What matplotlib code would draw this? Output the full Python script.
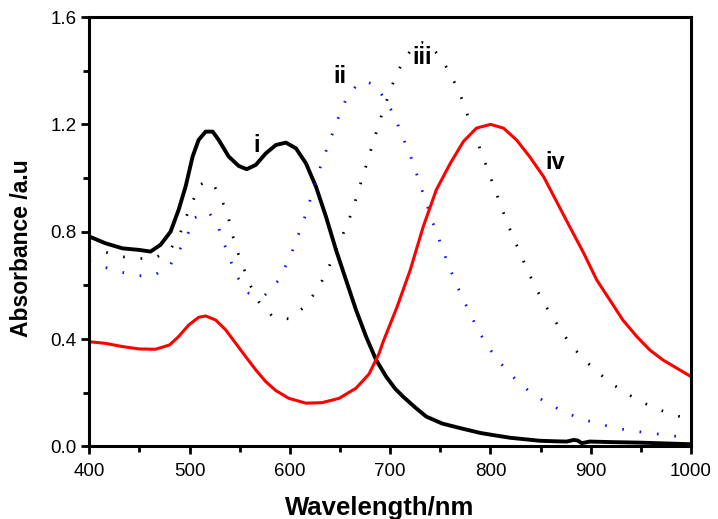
import matplotlib
matplotlib.use("Agg")
import matplotlib.pyplot as plt
from matplotlib.ticker import MultipleLocator

plt.rcParams['font.family'] = ['Liberation Sans', 'DejaVu Sans']

# curve i (black solid)
wl_i = [400, 416, 433, 450, 461, 471, 481, 489, 496, 503, 509, 516, 523, 529, 539, 549,
        557, 566, 576, 586, 596, 606, 616, 626, 636, 646, 656, 666, 676, 686, 696,
        705, 713, 725, 736, 752, 770, 790, 803, 820, 836, 849, 865, 876, 883, 887,
        891, 899, 920, 949, 975, 1000]
ab_i = [0.782, 0.757, 0.738, 0.732, 0.726, 0.751, 0.80, 0.881, 0.968, 1.08, 1.142, 1.173, 1.173, 1.142, 1.08, 1.045,
        1.033, 1.049, 1.092, 1.123, 1.132, 1.111, 1.055, 0.968, 0.856, 0.732, 0.62, 0.508, 0.409, 0.322, 0.26,
        0.215, 0.185, 0.145, 0.111, 0.085, 0.068, 0.05, 0.042, 0.032, 0.026, 0.021, 0.019, 0.018, 0.024, 0.022,
        0.012, 0.018, 0.016, 0.014, 0.011, 0.008]

# curve ii (blue dotted)
wl_ii = [400, 415, 431, 448, 464, 480, 490, 498, 505, 519, 529, 535, 541, 548, 559, 575,
         589, 597, 604, 610, 616, 621, 626, 631, 637, 643, 649, 656, 668, 675, 685,
         696, 705, 711, 718, 724, 729, 735, 740, 746, 752, 758, 765, 772, 780, 788,
         798, 810, 825, 841, 858, 874, 890, 906, 923, 939, 956, 972, 988, 1000]
ab_ii = [0.69, 0.668, 0.65, 0.636, 0.636, 0.672, 0.732, 0.79, 0.852, 0.874, 0.813, 0.75, 0.69, 0.629, 0.571, 0.563,
         0.62, 0.682, 0.742, 0.804, 0.866, 0.928, 0.987, 1.049, 1.111, 1.171, 1.232, 1.294, 1.353, 1.36, 1.347,
         1.287, 1.227, 1.164, 1.105, 1.045, 0.983, 0.921, 0.86, 0.80, 0.738, 0.676, 0.614, 0.554, 0.493, 0.431,
         0.369, 0.31, 0.25, 0.198, 0.158, 0.128, 0.103, 0.086, 0.07, 0.059, 0.051, 0.044, 0.036, 0.032]

# curve iii (black dotted)
wl_iii = [400, 417, 432, 448, 464, 480, 490, 496, 503, 510, 518, 525, 533, 539, 543, 548,
          554, 560, 569, 583, 599, 615, 627, 636, 650, 657, 663, 668, 673, 678, 683,
          688, 693, 699, 705, 713, 724, 732, 740, 752, 761, 769, 775, 781, 787, 793,
          799, 805, 811, 817, 824, 831, 838, 846, 855, 865, 876, 889, 905, 922, 938,
          954, 971, 987, 1000]
ab_iii = [0.74, 0.723, 0.707, 0.70, 0.70, 0.729, 0.788, 0.85, 0.912, 0.974, 0.99, 0.968, 0.91, 0.848, 0.785, 0.723,
          0.664, 0.604, 0.539, 0.483, 0.475, 0.521, 0.583, 0.643, 0.767, 0.825, 0.887, 0.949, 1.009, 1.07, 1.132,
          1.192, 1.254, 1.313, 1.376, 1.436, 1.494, 1.505, 1.494, 1.44, 1.38, 1.32, 1.257, 1.195, 1.136, 1.074,
          1.014, 0.952, 0.891, 0.83, 0.769, 0.707, 0.647, 0.585, 0.524, 0.464, 0.401, 0.34, 0.282, 0.231, 0.192,
          0.16, 0.133, 0.113, 0.10]

# curve iv (red solid)
wl_iv = [400, 416, 433, 450, 466, 480, 489, 499, 509, 516, 526, 536, 546, 556, 566, 576,
         586, 599, 616, 632, 649, 666, 679, 689, 693, 707, 720, 733, 746, 760, 773,
         786, 800, 813, 826, 839, 853, 866, 879, 893, 906, 919, 932, 946, 959, 972,
         986, 1000]
ab_iv = [0.39, 0.384, 0.372, 0.363, 0.362, 0.378, 0.409, 0.452, 0.481, 0.486, 0.471, 0.434, 0.384, 0.334, 0.285, 0.241,
         0.208, 0.179, 0.161, 0.163, 0.179, 0.217, 0.27, 0.347, 0.39, 0.521, 0.657, 0.819, 0.956, 1.055, 1.136,
         1.186, 1.20, 1.186, 1.142, 1.08, 1.005, 0.912, 0.819, 0.72, 0.62, 0.546, 0.471, 0.409, 0.359, 0.322,
         0.291, 0.26]

labels = ["i", "ii", "iii", "iv"]
label_x = [567, 650, 732, 865]
label_y = [1.123, 1.377, 1.448, 1.058]

fig = plt.figure(figsize=(7.18, 5.19), dpi=100)
ax = fig.add_axes([0.1244, 0.1399, 0.8380, 0.8273])

ax.plot(wl_i, ab_i, color='black', lw=2.8, solid_joinstyle='round')
ax.plot(wl_ii, ab_ii, color='#1010ff', lw=2.0, linestyle=(0, (0.6, 5.7)))
ax.plot(wl_iii, ab_iii, color='black', lw=2.0, linestyle=(0, (0.6, 5.7)))
ax.plot(wl_iv, ab_iv, color='#ff0000', lw=2.2, solid_joinstyle='round')

for t, x, y in zip(labels, label_x, label_y):
    ax.text(x, y, t, fontsize=17, fontweight='bold', ha='center', va='center')

ax.set_xlim(400, 1000)
ax.set_ylim(0, 1.6)
ax.xaxis.set_major_locator(MultipleLocator(100))
ax.xaxis.set_minor_locator(MultipleLocator(50))
ax.yaxis.set_major_locator(MultipleLocator(0.4))
ax.yaxis.set_minor_locator(MultipleLocator(0.2))
ax.yaxis.set_major_formatter(plt.FuncFormatter(lambda v, p: f"{v:.1f}"))

for s in ax.spines.values():
    s.set_linewidth(2.2)
ax.tick_params(which='major', direction='out', length=6, width=2, labelsize=13.5)
ax.tick_params(axis='x', which='major', pad=6)
ax.tick_params(axis='y', which='major', pad=3)
ax.tick_params(which='minor', direction='out', length=4, width=2)
ax.tick_params(top=False, right=False)

ax.set_xlabel("Wavelength/nm", fontsize=18.5, fontweight='bold')
ax.set_ylabel("Absorbance /a.u", fontsize=16.5, fontweight='bold')
ax.xaxis.set_label_coords(0.483, -0.115)
ax.yaxis.set_label_coords(-0.094, 0.462)

fig.savefig("out.png", dpi=100)
